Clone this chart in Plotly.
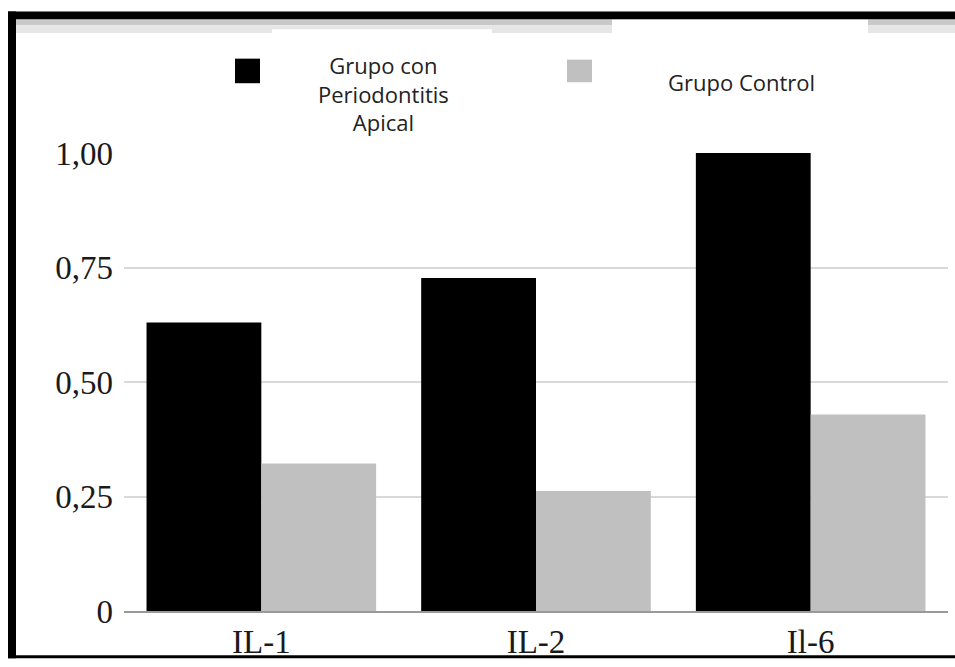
import plotly.graph_objects as go

# ---- data ----
categories = ["IL-1", "IL-2", "Il-6"]
series_names = ["Grupo con<br>Periodontitis<br>Apical", "Grupo Control"]
periodontitis_values = [0.63, 0.727, 1.00]
control_values = [0.322, 0.262, 0.429]
series_colors = ["#000000", "#c0c0c0"]
y_tickvals = [0, 0.25, 0.5, 0.75, 1.0]
y_ticktext = ["0", "0,25", "0,50", "0,75", "1,00"]

W, H = 955, 667
L, R, T, B = 124, 7, 153, 48
PW, PH = W - L - R, H - T - B


def px(x):
    return (x - L) / PW


def py(y):
    return (H - B - y) / PH


fig = go.Figure()
for name, vals, col in zip(series_names, [periodontitis_values, control_values], series_colors):
    fig.add_trace(go.Bar(x=categories, y=vals, name=name, marker=dict(color=col, line=dict(width=0)),
                         showlegend=False))

shapes = []
# top gray band (scan artefact)
shapes.append(dict(type="rect", xref="paper", yref="paper", x0=px(16), x1=px(955), y0=py(23), y1=py(17),
                   fillcolor="#c9c9c9", line=dict(width=0), layer="above"))
shapes.append(dict(type="rect", xref="paper", yref="paper", x0=px(16), x1=px(955), y0=py(31), y1=py(23),
                   fillcolor="#e6e6e6", line=dict(width=0), layer="above"))
shapes.append(dict(type="rect", xref="paper", yref="paper", x0=px(612), x1=px(868), y0=py(31), y1=py(17),
                   fillcolor="#ffffff", line=dict(width=0), layer="above"))
shapes.append(dict(type="rect", xref="paper", yref="paper", x0=px(272), x1=px(492), y0=py(31), y1=py(27),
                   fillcolor="#ffffff", line=dict(width=0), layer="above"))
# black frame
shapes.append(dict(type="rect", xref="paper", yref="paper", x0=px(8), x1=px(955), y0=py(17), y1=py(9),
                   fillcolor="#000000", line=dict(width=0), layer="above"))
shapes.append(dict(type="rect", xref="paper", yref="paper", x0=px(8), x1=px(16), y0=py(667), y1=py(9),
                   fillcolor="#000000", line=dict(width=0), layer="above"))
shapes.append(dict(type="rect", xref="paper", yref="paper", x0=px(8), x1=px(955), y0=py(667), y1=py(664),
                   fillcolor="#000000", line=dict(width=0), layer="above"))
# legend squares
shapes.append(dict(type="rect", xref="paper", yref="paper", x0=px(235), x1=px(260), y0=py(82), y1=py(57),
                   fillcolor=series_colors[0], line=dict(width=0)))
shapes.append(dict(type="rect", xref="paper", yref="paper", x0=px(567), x1=px(592), y0=py(81), y1=py(58),
                   fillcolor=series_colors[1], line=dict(width=0)))

annotations = [
    dict(xref="paper", yref="paper", x=px(383), y=py(92), text=series_names[0], showarrow=False,
         xanchor="center", yanchor="middle", align="center",
         font=dict(family="Open Sans", size=22, color="#222222")),
    dict(xref="paper", yref="paper", x=px(741), y=py(81), text=series_names[1], showarrow=False,
         xanchor="center", yanchor="middle", font=dict(family="Open Sans", size=22, color="#222222")),
]

fig.update_layout(
    width=W, height=H,
    margin=dict(l=L, r=R, t=T, b=B),
    paper_bgcolor="white", plot_bgcolor="white",
    barmode="group", bargap=0.164, bargroupgap=0,
    shapes=shapes, annotations=annotations,
    xaxis=dict(showline=True, linecolor="#999999", linewidth=2, ticks="", showgrid=False,
               tickfont=dict(family="Liberation Serif", size=33, color="#1a1a1a"),
               ticklabelstandoff=0),
    yaxis=dict(range=[0, 1.0], tickvals=y_tickvals, ticktext=y_ticktext, showgrid=True,
               gridcolor="#d9d9d9", gridwidth=1.5, zeroline=False, showline=False, ticks="",
               tickfont=dict(family="Liberation Serif", size=33, color="#1a1a1a"),
               ticklabelstandoff=10),
)

fig.write_html("out.html", config={"displayModeBar": False},
               post_script="document.body.style.margin='0';document.body.style.overflow='hidden';")
